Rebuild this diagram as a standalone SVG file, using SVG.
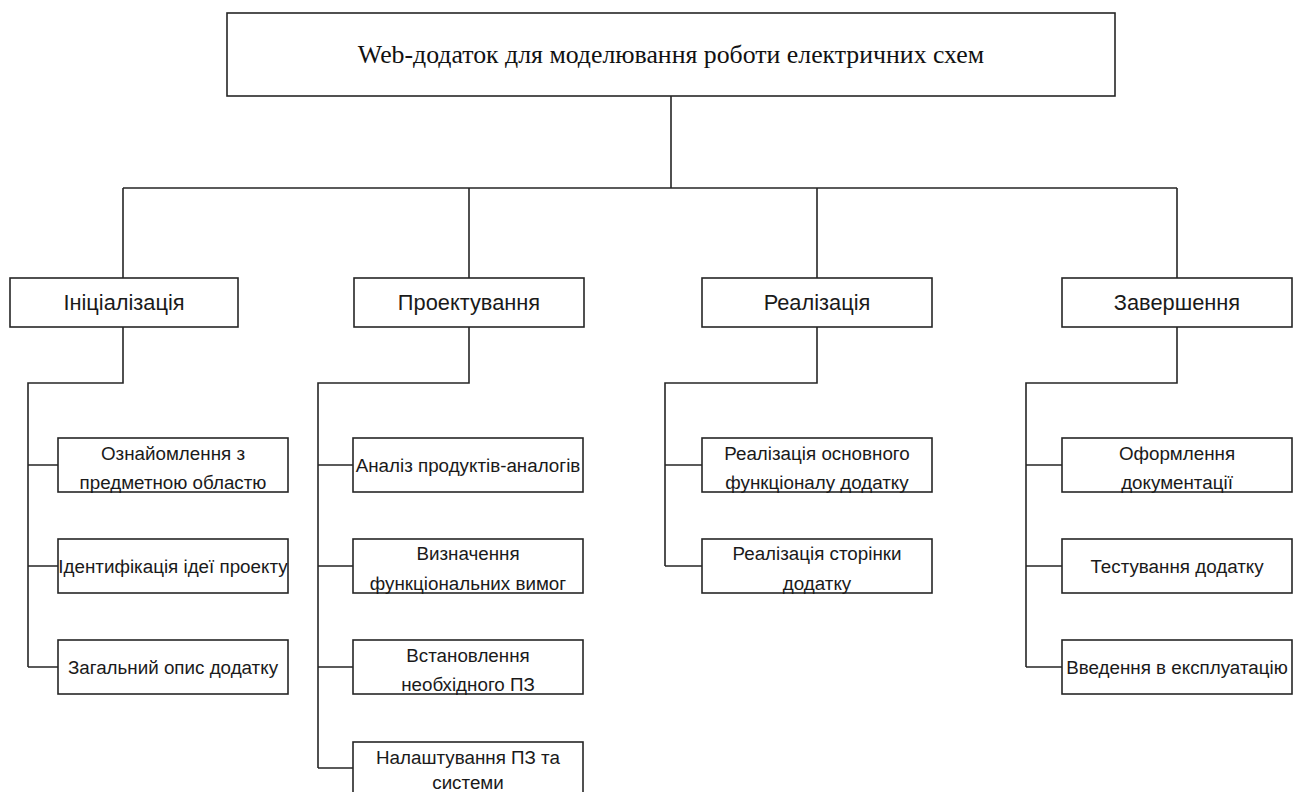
<svg xmlns="http://www.w3.org/2000/svg" width="1293" height="792" viewBox="0 0 1293 792">
<style>
.b{fill:#fff;stroke:#262626;stroke-width:1.6}
.c{fill:none;stroke:#262626;stroke-width:1.6}
.t{font-family:"Liberation Sans",Arial,sans-serif;font-size:18.8px;fill:#1a1a1a;text-anchor:middle}
.h{font-family:"Liberation Sans",Arial,sans-serif;font-size:21.8px;fill:#1a1a1a;text-anchor:middle}
.r{font-family:"Liberation Serif","Times New Roman",serif;font-size:25.8px;fill:#111;text-anchor:middle}
</style>
<rect width="1293" height="792" fill="#fff"/>
<g id="connectors">
<path class="c" d="M671 96V188M123 188H1177M123 188V278M469 188V278M817 188V278M1177 188V278"/>
<path class="c" d="M123 327V383H28V667M28 465H58M28 566H58M28 667H58"/>
<path class="c" d="M469 327V383H318V768M318 465H353M318 566H353M318 667H353M318 768H353"/>
<path class="c" d="M817 327V383H665V566M665 465H702M665 566H702"/>
<path class="c" d="M1177 327V383H1026V667M1026 465H1062M1026 566H1062M1026 667H1062"/>
</g>
<g id="root"><rect class="b" x="227" y="13" width="888" height="83"/><text class="r" x="671" y="63">Web-додаток для моделювання роботи електричних схем</text></g>
<g id="init"><rect class="b" x="10" y="278" width="228" height="49"/><text class="h" x="124" y="310">Ініціалізація</text></g>
<g id="design"><rect class="b" x="354" y="278" width="230" height="49"/><text class="h" x="469" y="310">Проектування</text></g>
<g id="impl"><rect class="b" x="702" y="278" width="230" height="49"/><text class="h" x="817" y="310">Реалізація</text></g>
<g id="finish"><rect class="b" x="1062" y="278" width="230" height="49"/><text class="h" x="1177" y="310">Завершення</text></g>

<g id="i1"><rect class="b" x="58" y="438" width="230" height="54"/><text class="t" x="173" y="459.5">Ознайомлення з</text><text class="t" x="173" y="488.5">предметною областю</text></g>
<g id="i2"><rect class="b" x="58" y="539" width="230" height="54"/><text class="t" x="173" y="573">Ідентифікація ідеї проекту</text></g>
<g id="i3"><rect class="b" x="58" y="640" width="230" height="54"/><text class="t" x="173" y="674">Загальний опис додатку</text></g>

<g id="d1"><rect class="b" x="353" y="438" width="230" height="54"/><text class="t" x="468" y="472">Аналіз продуктів-аналогів</text></g>
<g id="d2"><rect class="b" x="353" y="539" width="230" height="54"/><text class="t" x="468" y="560">Визначення</text><text class="t" x="468" y="589.5">функціональних вимог</text></g>
<g id="d3"><rect class="b" x="353" y="640" width="230" height="54"/><text class="t" x="468" y="661.5">Встановлення</text><text class="t" x="468" y="690.5">необхідного ПЗ</text></g>
<g id="d4"><rect class="b" x="353" y="742" width="230" height="54"/><text class="t" x="468" y="763.5">Налаштування ПЗ та</text><text class="t" x="468" y="789">системи</text></g>

<g id="m1"><rect class="b" x="702" y="438" width="230" height="54"/><text class="t" x="817" y="459.5">Реалізація основного</text><text class="t" x="817" y="488.5">функціоналу додатку</text></g>
<g id="m2"><rect class="b" x="702" y="539" width="230" height="54"/><text class="t" x="817" y="560">Реалізація сторінки</text><text class="t" x="817" y="589.5">додатку</text></g>

<g id="f1"><rect class="b" x="1062" y="438" width="230" height="54"/><text class="t" x="1177" y="459.5">Оформлення</text><text class="t" x="1177" y="488.5">документації</text></g>
<g id="f2"><rect class="b" x="1062" y="539" width="230" height="54"/><text class="t" x="1177" y="573">Тестування додатку</text></g>
<g id="f3"><rect class="b" x="1062" y="640" width="230" height="54"/><text class="t" x="1177" y="674">Введення в експлуатацію</text></g>
</svg>
